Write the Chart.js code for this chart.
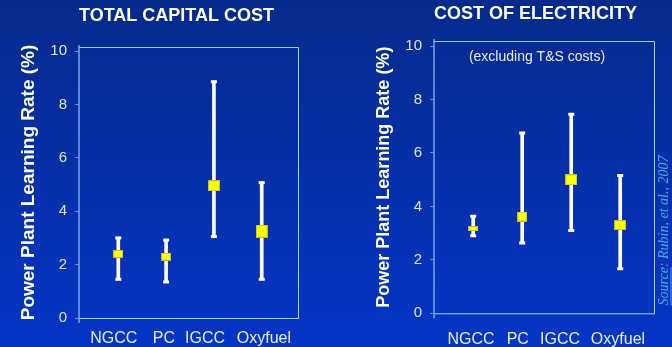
<!DOCTYPE html>
<html>
<head>
<meta charset="utf-8">
<script src="https://cdn.jsdelivr.net/npm/chart.js@4.4.0/dist/chart.umd.min.js"></script>
<style>
    html, body { margin: 0; padding: 0; }
    body {
        width: 672px; height: 347px; overflow: hidden; position: relative;
        background: linear-gradient(#062a8c, #0535c6);
    }
    .box { position: absolute; top: 0; width: 336px; height: 347px; }
    #left { left: 0; }
    #right { left: 336px; }
</style>
</head>
<body>
<div class="box" id="left"><canvas id="capitalChart" width="336" height="347"></canvas></div>
<div class="box" id="right"><canvas id="coeChart" width="336" height="347"></canvas></div>
<script>
// data
const categories = ['NGCC', 'PC', 'IGCC', 'Oxyfuel'];
const yTicks = [0, 2, 4, 6, 8, 10];

const capitalMean = [2.4, 2.3, 4.95, 3.25];
const capitalLow = [1.45, 1.35, 3.05, 1.45];
const capitalHigh = [3.0, 2.92, 8.85, 5.07];

const coeMean = [3.17, 3.62, 5.0, 3.3];
const coeLow = [2.9, 2.63, 3.1, 1.67];
const coeHigh = [3.63, 6.75, 7.45, 5.16];

const FONT = '"Liberation Sans", Arial, sans-serif';

function makeMarker(w, h) {
    const c = document.createElement('canvas');
    c.width = w;
    c.height = h;
    const g = c.getContext('2d');
    g.fillStyle = '#ffff00';
    g.fillRect(0, 0, w, h);
    g.strokeStyle = 'rgba(170,170,40,0.7)';
    g.strokeRect(0.5, 0.5, w - 1, h - 1);
    return c;
}

// labels in the original sit a bit off the marks; nudge them with spaces
function nudgedLabel(text, n) {
    const pad = ' '.repeat(Math.abs(n));
    return n < 0 ? text + pad : pad + text;
}

function framePlugin(extra) {
    return {
        id: 'frame',
        beforeDatasetsDraw(chart) {
            const { ctx, chartArea: a } = chart;
            ctx.save();
            ctx.lineWidth = 1;
            ctx.strokeStyle = '#a0d0f0';
            ctx.beginPath();
            ctx.moveTo(a.left, a.top + 0.5);
            ctx.lineTo(a.right - 0.5, a.top + 0.5);
            ctx.lineTo(a.right - 0.5, a.bottom);
            ctx.stroke();
            ctx.strokeStyle = '#a8d0f4';
            ctx.beginPath();
            ctx.moveTo(a.left, a.bottom + 0.5);
            ctx.lineTo(a.right, a.bottom + 0.5);
            ctx.stroke();
            ctx.lineWidth = 1.5;
            ctx.strokeStyle = '#7aa6ea';
            ctx.beginPath();
            ctx.moveTo(a.left, a.top - 2);
            ctx.lineTo(a.left, a.bottom + 5);
            ctx.stroke();
            ctx.restore();
            if (extra) extra(ctx, a);
        }
    };
}

function buildChart(canvasId, cfg) {
    const pts = arr => categories.map((c, i) => ({ x: i + 1, y: arr[i] }));
    const whiskers = categories.map((c, i) => ({ x: i + 1, y: [cfg.low[i], cfg.high[i]] }));
    const markers = cfg.markerSize.map(s => makeMarker(s[0], s[1]));

    return new Chart(document.getElementById(canvasId), {
        type: 'bar',
        data: {
            datasets: [
                {
                    type: 'line', data: pts(cfg.mean), showLine: false, order: 0,
                    pointStyle: c => markers[c.dataIndex], pointRadius: 6
                },
                {
                    type: 'line', data: pts(cfg.high), showLine: false, order: 1,
                    pointStyle: 'line', pointRadius: 3, pointBorderWidth: 3, pointBorderColor: '#ffffff'
                },
                {
                    type: 'line', data: pts(cfg.low), showLine: false, order: 1,
                    pointStyle: 'line', pointRadius: 3, pointBorderWidth: 3, pointBorderColor: '#ffffff'
                },
                {
                    type: 'bar', data: whiskers, order: 2,
                    backgroundColor: '#ffffff', borderWidth: 0, barThickness: 3
                }
            ]
        },
        options: {
            responsive: false,
            animation: false,
            events: [],
            layout: { padding: { left: 0, right: cfg.padRight, top: 0, bottom: 0 } },
            plugins: {
                legend: { display: false },
                tooltip: { enabled: false },
                title: {
                    display: true, text: cfg.title, align: 'start', fullSize: false,
                    color: '#ffffff',
                    font: { family: FONT, size: 18, weight: 'bold' },
                    padding: { top: cfg.titleTop, bottom: cfg.titleBottom }
                }
            },
            scales: {
                x: {
                    type: 'linear', min: cfg.xMin, max: cfg.xMax, offset: false,
                    afterBuildTicks: s => { s.ticks = categories.map((c, i) => ({ value: i + 1 })); },
                    afterFit: s => { s.height = cfg.xHeight; },
                    grid: { display: false, drawTicks: false },
                    border: { display: false },
                    ticks: {
                        callback: v => nudgedLabel(categories[v - 1], cfg.labelNudge[v - 1]),
                        color: '#e8eef8', font: { family: FONT, size: 16 },
                        padding: cfg.xPad, autoSkip: false, maxRotation: 0
                    }
                },
                y: {
                    min: 0, max: cfg.yMax,
                    afterBuildTicks: s => { s.ticks = yTicks.map(v => ({ value: v })); },
                    afterFit: s => { s.width = cfg.yWidth; },
                    grid: { drawOnChartArea: false, tickLength: 4, color: 'rgba(140,180,240,0.7)' },
                    border: { display: false },
                    ticks: { color: '#dfe6f2', font: { family: FONT, size: 15 }, padding: 8 },
                    title: {
                        display: true, text: 'Power Plant Learning Rate (%)', color: '#ffffff',
                        font: { family: FONT, size: cfg.yTitleSize, weight: 'bold' },
                        padding: { top: cfg.yTitleTop, bottom: 0 }
                    }
                }
            }
        },
        plugins: [framePlugin(cfg.extra)]
    });
}

buildChart('capitalChart', {
    title: 'TOTAL CAPITAL COST',
    mean: capitalMean, low: capitalLow, high: capitalHigh,
    markerSize: [[10, 8], [10, 8], [12, 11], [12, 13]],
    labelNudge: [-2, -1, -4, 1],
    yWidth: 79, padRight: 37, xHeight: 29,
    titleTop: 5.5, titleBottom: 19.9,
    yMax: 10.15, xMin: 0.178, xMax: 4.78,
    yTitleSize: 19, yTitleTop: 17.6, xPad: 11
});

buildChart('coeChart', {
    title: 'COST OF ELECTRICITY',
    mean: coeMean, low: coeLow, high: coeHigh,
    markerSize: [[10, 5], [10, 10], [12, 11], [12, 10]],
    labelNudge: [-1, -2, -5, -1],
    yWidth: 98, padRight: 17, xHeight: 33.7,
    titleTop: 3.5, titleBottom: 15.9,
    yMax: 10.19, xMin: 0.2, xMax: 4.71,
    yTitleSize: 18, yTitleTop: 37.2, xPad: 17,
    extra: (ctx, a) => {
        ctx.save();
        ctx.fillStyle = '#e6ecf6';
        ctx.font = '14px ' + FONT;
        ctx.textAlign = 'center';
        ctx.textBaseline = 'middle';
        ctx.fillText('(excluding T&S costs)', a.left + 103, a.top + 16);

        const src = 'Source: Rubin, et al., 2007';
        ctx.translate(a.right + 9.5, a.top + 189.5);
        ctx.rotate(-Math.PI / 2);
        ctx.font = 'italic 14px "Liberation Serif", "Times New Roman", serif';
        ctx.fillStyle = '#42aee6';
        ctx.fillText(src, 0, 0);
        const full = ctx.measureText(src).width;
        const sw = ctx.measureText('Source').width;
        ctx.fillRect(-full / 2, 6, sw, 1);
        ctx.restore();
    }
});
</script>
</body>
</html>
